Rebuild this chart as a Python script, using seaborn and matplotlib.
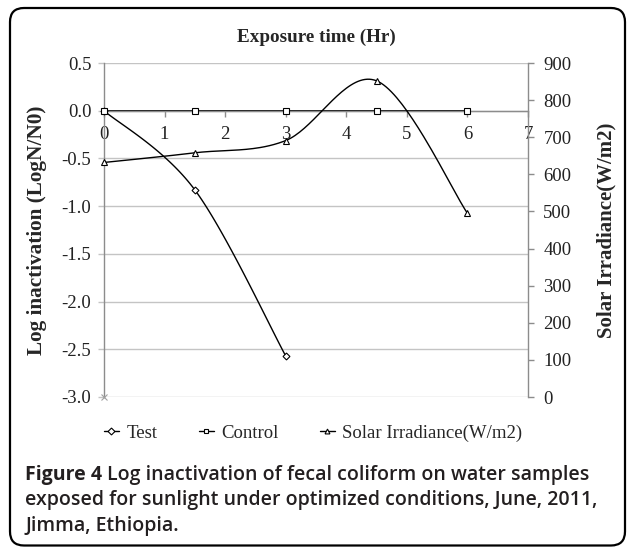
import numpy as np
import matplotlib
matplotlib.use("Agg")
import matplotlib.pyplot as plt
import seaborn as sns
from matplotlib.lines import Line2D
from matplotlib.patches import FancyBboxPatch
from matplotlib.transforms import IdentityTransform

# STYLE
sns.set_theme(style="white")
plt.rcParams["font.family"] = ["Liberation Serif", "DejaVu Serif"]

# DATA
hours = [0, 1.5, 3, 4.5, 6]
test_hours = [0, 1.5, 3]
test_log = [0.0, -0.83, -2.57]
control_log = [0.0, 0.0, 0.0, 0.0, 0.0]
solar_irr = [632, 658, 691, 852, 495]

x_ticks = [0, 1, 2, 3, 4, 5, 6, 7]
left_ticks = [0.5, 0.0, -0.5, -1.0, -1.5, -2.0, -2.5, -3.0]
right_ticks = [0, 100, 200, 300, 400, 500, 600, 700, 800, 900]

W, H = 627, 547


def smooth(x, y, n=40):
    """Excel style smoothed line (Catmull-Rom bezier)."""
    p = np.column_stack([x, y]).astype(float)
    pts = np.vstack([p[0], p, p[-1]])
    out = []
    t = np.linspace(0, 1, n)[:, None]
    for i in range(1, len(pts) - 2):
        p0, p1, p2, p3 = pts[i - 1], pts[i], pts[i + 1], pts[i + 2]
        c1 = p1 + (p2 - p0) / 6
        c2 = p2 - (p3 - p1) / 6
        seg = ((1 - t) ** 3) * p1 + 3 * ((1 - t) ** 2) * t * c1 \
            + 3 * (1 - t) * t ** 2 * c2 + t ** 3 * p2
        out.append(seg if i == 1 else seg[1:])
    out = np.vstack(out)
    return out[:, 0], out[:, 1]


fig = plt.figure(figsize=(W / 100, H / 100), dpi=100)
ax = fig.add_axes([104 / W, 1 - 397 / H, 424 / W, 334 / H])
ax2 = ax.twinx()

GRID = "#c4c4c4"
AXIS = "#8c8c8c"
TICK_FS = 13.5

# left axis
ax.set_xlim(0, 7)
ax.set_ylim(-3.0, 0.5)
ax.set_yticks(left_ticks)
ax.set_yticklabels([f"{v:.1f}" for v in left_ticks], fontsize=TICK_FS)
ax.yaxis.grid(True, color=GRID, lw=1)
ax.xaxis.grid(False)
ax.set_axisbelow(True)
for s in ["top", "right"]:
    ax.spines[s].set_visible(False)
ax.spines["left"].set_color(AXIS)
ax.spines["left"].set_linewidth(1)
ax.spines["bottom"].set_position(("data", 0))
ax.spines["bottom"].set_color(AXIS)
ax.spines["bottom"].set_linewidth(1)
ax.tick_params(axis="y", which="both", left=True, length=4, width=1,
               color=GRID, pad=5, labelcolor="#222222")
ax.set_xticks(x_ticks)
ax.set_xticklabels([str(v) for v in x_ticks], fontsize=TICK_FS)
ax.tick_params(axis="x", bottom=True, direction="out", length=4, width=1,
               color=AXIS, pad=7, labelcolor="#222222")

# right axis
ax2.set_ylim(0, 900)
ax2.set_yticks(right_ticks)
ax2.set_yticklabels([str(v) for v in right_ticks], fontsize=TICK_FS)
for s in ["top", "left", "bottom"]:
    ax2.spines[s].set_visible(False)
ax2.spines["right"].set_color(AXIS)
ax2.spines["right"].set_linewidth(1)
ax2.tick_params(axis="y", right=True, length=4, width=1, color=AXIS,
                pad=7, labelcolor="#222222")
ax2.grid(False)

mk = dict(markersize=4, markerfacecolor="white", markeredgecolor="black",
          markeredgewidth=0.8, linestyle="none")

# Test
tx, ty = smooth(test_hours, test_log)
sns.lineplot(x=tx, y=ty, ax=ax, color="black", lw=1, sort=False,
             estimator=None)
ax.plot(test_hours, test_log, marker="D", zorder=5, clip_on=False,
        **{**mk, "markersize": 3.5})

# Control
sns.lineplot(x=hours, y=control_log, ax=ax, color="black", lw=1.3,
             sort=False, estimator=None)
ax.plot(hours, control_log, marker="s", zorder=5, clip_on=False, **mk)

# stray marker at the origin of the chart
ax.plot([0], [-3.0], marker="x", color="#a0a0a0", markersize=4,
        markeredgewidth=0.8, clip_on=False, zorder=6)

# Solar irradiance
sx, sy = smooth(hours, solar_irr)
sns.lineplot(x=sx, y=sy, ax=ax2, color="black", lw=1, sort=False,
             estimator=None)
ax2.plot(hours, solar_irr, marker="^", zorder=5, clip_on=False,
         **{**mk, "markersize": 4})

# labels
ax.set_ylabel("Log inactivation (LogN/N0)", fontsize=15.3, fontweight="bold")
ax.yaxis.set_label_coords((47 - 104) / 424, 0.5)
ax2.set_ylabel("Solar Irradiance(W/m2)", fontsize=15, fontweight="bold")
ax2.yaxis.set_label_coords((596 - 104) / 424, 0.5)
fig.text(316 / W, 1 - 37 / H, "Exposure time (Hr)", fontsize=13.8,
         fontweight="bold", ha="center", va="center")

# legend
handles = [
    Line2D([], [], color="black", lw=1, marker="D",
           **{**mk, "linestyle": "-", "markersize": 3.5}),
    Line2D([], [], color="black", lw=1, marker="s",
           **{**mk, "linestyle": "-", "markersize": 3.5}),
    Line2D([], [], color="black", lw=1, marker="^",
           **{**mk, "linestyle": "-", "markersize": 3.5}),
]
fig.legend(handles, ["Test", "Control", "Solar Irradiance(W/m2)"],
           loc="center", bbox_to_anchor=(313 / W, 1 - 433 / H), ncol=3,
           frameon=False, fontsize=13.5, handlelength=0.8,
           handletextpad=0.4, columnspacing=2.2, borderpad=0)
if ax.get_legend() is not None:
    ax.get_legend().remove()
if ax2.get_legend() is not None:
    ax2.get_legend().remove()

# caption
cap = dict(family=["Open Sans", "DejaVu Sans"], fontsize=14.0,
           color="#231f20", va="center")
t1 = fig.text(25 / W, 1 - 475 / H, "Figure 4", fontweight="bold", **cap)
fig.canvas.draw()
bb = t1.get_window_extent()
fig.text((bb.x1 + 5) / W, 1 - 475 / H,
         "Log inactivation of fecal coliform on water samples",
         fontweight="semibold", **cap)
fig.text(25 / W, 1 - 500.5 / H,
         "exposed for sunlight under optimized conditions, June, 2011,",
         fontweight="semibold", **cap)
fig.text(25 / W, 1 - 526 / H, "Jimma, Ethiopia.", fontweight="semibold",
         **cap)

# frame round the whole figure
frame = FancyBboxPatch((10, 1.5), 615, 537.5,
                       boxstyle="round,pad=0,rounding_size=14",
                       transform=IdentityTransform(), fill=False,
                       lw=1.6, ec="black")
fig.patches.append(frame)

fig.savefig("out.png", dpi=100)
